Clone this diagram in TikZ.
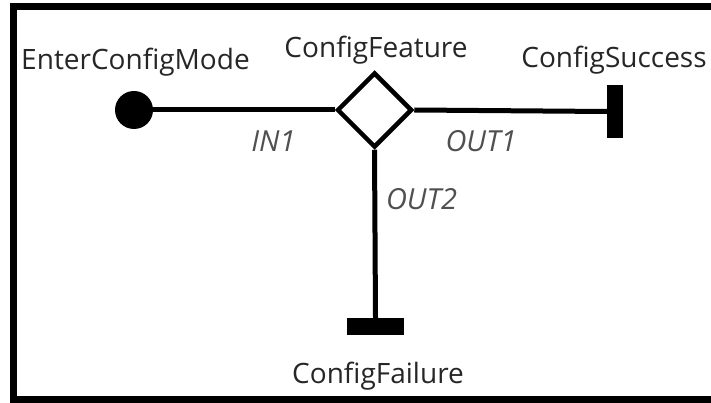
\documentclass[tikz,border=0pt]{standalone}
\usepackage{fontspec}
\setmainfont{Open Sans}
\usetikzlibrary{shapes.geometric}
\definecolor{labelink}{HTML}{262626}
\definecolor{portink}{HTML}{505050}
\tikzset{
  wire/.style={line width=5pt},
  statename/.style={anchor=base, inner sep=0pt, text=labelink, font=\fontsize{28}{32}\selectfont},
  portname/.style={anchor=base, inner sep=0pt, text=portink, font=\itshape\fontsize{29}{33}\selectfont},
  startdot/.style={circle, fill=black, minimum size=38pt, inner sep=0pt},
  choice/.style={diamond, draw, line width=4.5pt, fill=white, minimum width=75pt, minimum height=75pt, inner sep=0pt},
  endbar/.style={rectangle, fill=black, inner sep=0pt}
}
\begin{document}
\begin{tikzpicture}[x=1pt, y=-1pt]
  \useasboundingbox (0,0) rectangle (711,403);
  % frame (right side runs past the page edge)
  \begin{scope}
    \clip (0,0) rectangle (711,403);
    \draw[line width=6.5pt] (730,6.5) -- (13.5,6.5) -- (13.5,399.5) -- (730,399.5);
  \end{scope}

  % states
  \node[startdot] (enter) at (134,110) {};
  \node[choice] (feature) at (374.5,110) {};
  \node[endbar, minimum width=16pt, minimum height=53pt] (success) at (615,111.5) {};
  \node[endbar, minimum width=57pt, minimum height=17pt] (failure) at (375.5,326.5) {};

  % transitions
  \draw[wire] (enter.center) -- (feature.west);
  \draw[wire] (feature.east) -- (success.west);
  \draw[wire] (feature.south) -- (failure.north);

  % state names
  \node[statename] (tEnter) at (135.5,70) {EnterConfigMode};
  \node[statename] (tFeature) at (376,58) {ConfigFeature};
  \node[statename] (tSuccess) at (614,68) {ConfigSuccess};
  \node[statename] (tFailure) at (378,383) {ConfigFailure};

  % port names
  \node[portname] (pIn) at (273.5,152) {IN1};
  \node[portname] (pOut1) at (481,152) {OUT1};
  \node[portname] (pOut2) at (421.5,210) {OUT2};
\end{tikzpicture}
\end{document}
